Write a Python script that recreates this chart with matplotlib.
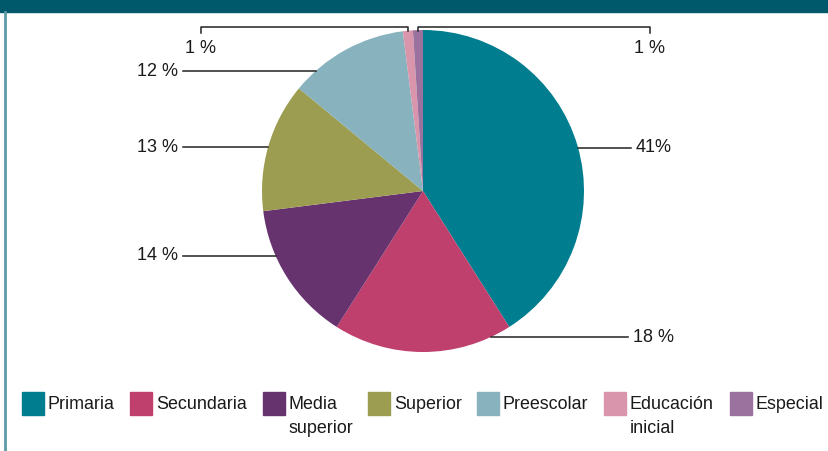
import matplotlib
matplotlib.use("Agg")
from matplotlib import pyplot as plt
from matplotlib.patches import Rectangle
import numpy as np

plt.rcParams["font.family"] = ["Liberation Sans", "DejaVu Sans"]

# data
categories = ["Primaria", "Secundaria", "Media\nsuperior", "Superior",
              "Preescolar", "Educación\ninicial", "Especial"]
shares = [41, 18, 14, 13, 12, 1, 1]
share_labels = ["41%", "18 %", "14 %", "13 %", "12 %", "1 %", "1 %"]
colors = ["#007d8f", "#bf3f6d", "#66336f", "#9c9d50",
          "#88b2bd", "#d995ab", "#9b729e"]

W, H = 829, 451
cx, cy, r = 423, 191, 161
text_col = "#1a1a1a"
line_col = "#222222"

fig = plt.figure(figsize=(W / 100, H / 100), dpi=100)
ax = fig.add_axes([0, 0, 1, 1])

# y axis is inverted (pixel coords), so counterclock=True reads clockwise
wedges, _ = ax.pie(shares, colors=colors, center=(cx, cy), radius=r,
                   startangle=-90, counterclock=True,
                   wedgeprops=dict(linewidth=0))
ax.set_xlim(0, W)
ax.set_ylim(H, 0)
ax.set_aspect("equal")
ax.axis("off")

# header band + left frame
ax.add_patch(Rectangle((0, 0), W, 12, color="#00586b", zorder=5))
ax.plot([5, 5], [12, H], color="#5e9aa5", lw=2, zorder=5)


def edge_x(y, side):
    return cx + side * np.sqrt(r ** 2 - (y - cy) ** 2)


# side labels: (index, label y, side, line end x)
side_specs = [(0, 148, 1, 631), (1, 337, 1, 628),
              (2, 256, -1, 183), (3, 147, -1, 183), (4, 71, -1, 183)]
for i, y, side, xend in side_specs:
    x0 = edge_x(y, side)
    ax.plot([x0, xend], [y, y], color=line_col, lw=1.1)
    ha = "left" if side > 0 else "right"
    ax.text(xend + side * 5, y, share_labels[i], ha=ha, va="center",
            fontsize=13, color=text_col)

# small slices: bracket leaders above the pie
top_specs = [(5, 201), (6, 650)]
for i, xl in top_specs:
    w = wedges[i]
    mid = np.deg2rad((w.theta1 + w.theta2) / 2)
    xs = cx + r * np.cos(mid)
    ax.plot([xs, xs, xl, xl], [31, 27, 27, 33], color=line_col, lw=1.1)
    ax.text(xl, 48, share_labels[i], ha="center", va="center",
            fontsize=13, color=text_col)

# legend
leg_x = [22, 130, 263, 368, 477, 604, 730]
for name, c, x in zip(categories, colors, leg_x):
    ax.add_patch(Rectangle((x, 392), 22, 23, color=c))
    ax.text(x + 26, 396, name, ha="left", va="top", fontsize=12.9,
            color=text_col, linespacing=1.55)

fig.savefig("out.png", dpi=100)
